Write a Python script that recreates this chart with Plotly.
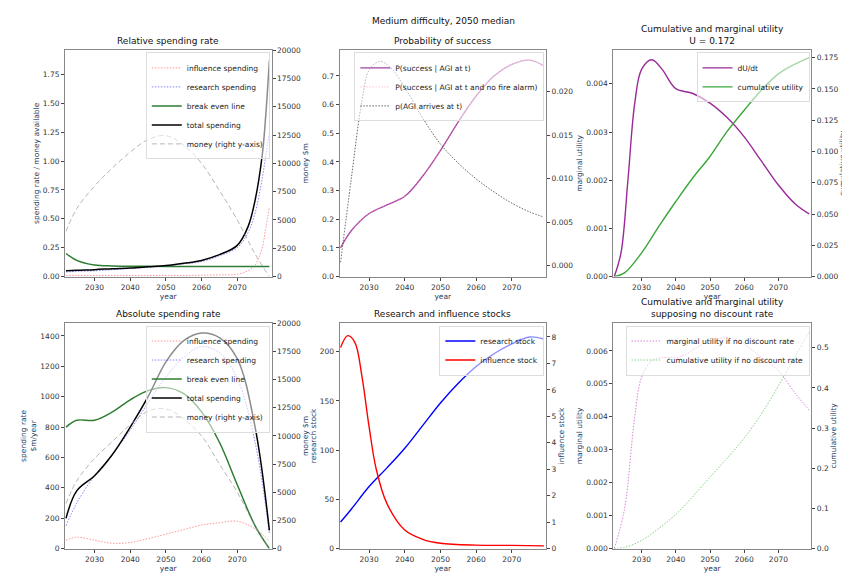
import plotly.graph_objects as go

# ---- data ----
yr_rel = [2022, 2025, 2030, 2035, 2040, 2045, 2050, 2055, 2060, 2065, 2070, 2073, 2075, 2077, 2078, 2079]
rel_influence = [0.01, 0.01, 0.01, 0.01, 0.01, 0.01, 0.01, 0.01, 0.012, 0.015, 0.02, 0.05, 0.1, 0.25, 0.42, 0.6]
rel_research = [0.04, 0.045, 0.05, 0.06, 0.07, 0.08, 0.09, 0.11, 0.13, 0.18, 0.25, 0.38, 0.55, 0.85, 1.05, 1.25]
rel_total = [0.05, 0.055, 0.06, 0.068, 0.075, 0.085, 0.095, 0.115, 0.14, 0.19, 0.27, 0.43, 0.66, 1.05, 1.4, 1.87]
rel_breakeven = [0.2, 0.14, 0.1, 0.092, 0.09, 0.089, 0.088, 0.088, 0.088, 0.088, 0.088, 0.088, 0.088, 0.088, 0.088, 0.088]
yr_money = [2022, 2025, 2030, 2035, 2040, 2045, 2050, 2055, 2060, 2065, 2070, 2075, 2079]
money = [4000, 6000, 8000, 9600, 11000, 12100, 12450, 11600, 10000, 7600, 5000, 2000, 0]

yr_p = [2022, 2025, 2030, 2035, 2040, 2045, 2050, 2055, 2060, 2065, 2070, 2075, 2079]
p_success = [0.1, 0.16, 0.22, 0.25, 0.28, 0.35, 0.44, 0.54, 0.63, 0.7, 0.74, 0.755, 0.735]
yr_agi = [2022, 2025, 2028, 2030, 2033, 2036, 2040, 2045, 2050, 2055, 2060, 2065, 2070, 2075, 2079]
p_agi = [0.0004, 0.01, 0.019, 0.0225, 0.0235, 0.0228, 0.0205, 0.017, 0.014, 0.0118, 0.0100, 0.0085, 0.0072, 0.0062, 0.0056]

yr_u = [2022, 2024, 2026, 2028, 2030, 2033, 2036, 2040, 2045, 2050, 2055, 2060, 2065, 2070, 2075, 2079]
du_dt = [0.0, 0.0005, 0.002, 0.0036, 0.0043, 0.0045, 0.0043, 0.0039, 0.0038, 0.0036, 0.0033, 0.0029, 0.0024, 0.0019, 0.0015, 0.0013]
yr_cu = [2022, 2025, 2030, 2035, 2040, 2045, 2050, 2055, 2060, 2065, 2070, 2075, 2079]
cum_u = [0.0, 0.003, 0.019, 0.04, 0.06, 0.079, 0.096, 0.116, 0.133, 0.149, 0.162, 0.17, 0.175]

yr_abs = [2022, 2025, 2030, 2035, 2040, 2045, 2050, 2055, 2060, 2065, 2070, 2075, 2079]
abs_influence = [55, 75, 55, 35, 40, 65, 95, 125, 155, 170, 180, 130, 50]
abs_research = [150, 300, 480, 620, 780, 960, 1130, 1260, 1330, 1290, 1120, 700, 100]
abs_total = [200, 380, 480, 620, 800, 1000, 1230, 1370, 1420, 1390, 1250, 800, 120]
abs_breakeven = [800, 845, 845, 900, 980, 1040, 1060, 1020, 900, 700, 420, 150, 0]
abs_money = [4000, 6000, 8000, 9500, 11000, 12200, 12400, 11500, 10000, 7500, 5000, 2000, 0]

yr_st = [2022, 2025, 2030, 2035, 2040, 2045, 2050, 2055, 2060, 2065, 2070, 2075, 2079]
research_stock = [27, 40, 63, 82, 102, 125, 148, 168, 185, 198, 208, 215, 213]
yr_inf = [2022, 2024, 2026, 2028, 2030, 2032, 2035, 2040, 2045, 2050, 2060, 2070, 2079]
influence_stock = [7.6, 8.05, 7.8, 6.5, 4.6, 3.0, 1.7, 0.7, 0.35, 0.2, 0.13, 0.12, 0.1]

yr_nd = [2022, 2025, 2028, 2030, 2033, 2036, 2040, 2043, 2046, 2050, 2055, 2060, 2065, 2070, 2075, 2079]
marg_nd = [0.0, 0.0012, 0.004, 0.0052, 0.0057, 0.0058, 0.0058, 0.0059, 0.0061, 0.0063, 0.0064, 0.0062, 0.0058, 0.0054, 0.0047, 0.0042]
yr_cnd = [2022, 2025, 2030, 2035, 2040, 2045, 2050, 2055, 2060, 2065, 2070, 2075, 2079]
cum_nd = [0.0, 0.003, 0.02, 0.05, 0.085, 0.13, 0.178, 0.225, 0.275, 0.335, 0.405, 0.48, 0.54]

FONT = "DejaVu Sans"
xdom = [[0.067, 0.31], [0.39, 0.633], [0.712, 0.945]]
ydom = [[0.535, 0.933], [0.057, 0.453]]
XR = [2021.7, 2079.6]

fig = go.Figure()


def line(x, y, name, color, dash, ax, yax, legend, width=1.0):
    fig.add_trace(go.Scatter(x=x, y=y, name=name, mode="lines", line_shape="spline",
                             line=dict(color=color, dash=dash, width=width),
                             xaxis=ax, yaxis=yax, legend=legend))


MDOT = "1.5px,1.5px"
MDASH = "5px,3px"
# panel 1
line(yr_rel, rel_influence, "influence spending", "rgba(255,80,80,0.6)", MDOT, "x", "y", "legend")
line(yr_rel, rel_research, "research spending", "rgba(80,80,255,0.7)", MDOT, "x", "y", "legend")
line(yr_rel, rel_breakeven, "break even line", "#2e7d32", "solid", "x", "y", "legend", 1.5)
line(yr_rel, rel_total, "total spending", "black", "solid", "x", "y", "legend", 1.5)
line(yr_money, money, "money (right y-axis)", "rgba(150,150,150,0.7)", MDASH, "x", "y2", "legend")
# panel 2
line(yr_p, p_success, "P(success | AGI at t)", "#a040a0", "solid", "x2", "y3", "legend2", 1.3)
line(yr_p, p_success, "P(success | AGI at t and no fire alarm)", "rgba(255,150,200,0.6)", MDOT, "x2", "y3", "legend2")
line(yr_agi, p_agi, "p(AGI arrives at t)", "rgba(60,60,60,0.8)", MDOT, "x2", "y4", "legend2")
# panel 3
line(yr_u, du_dt, "dU/dt", "#9a2a9a", "solid", "x3", "y5", "legend3", 1.4)
line(yr_cu, cum_u, "cumulative utility", "#3aa63a", "solid", "x3", "y6", "legend3", 1.4)
# panel 4
line(yr_abs, abs_influence, "influence spending", "rgba(255,80,80,0.6)", MDOT, "x4", "y7", "legend4")
line(yr_abs, abs_research, "research spending", "rgba(80,80,255,0.7)", MDOT, "x4", "y7", "legend4")
line(yr_abs, abs_breakeven, "break even line", "#2e7d32", "solid", "x4", "y7", "legend4", 1.5)
line(yr_abs, abs_total, "total spending", "black", "solid", "x4", "y7", "legend4", 1.5)
line(yr_abs, abs_money, "money (right y-axis)", "rgba(150,150,150,0.7)", MDASH, "x4", "y8", "legend4")
# panel 5
line(yr_st, research_stock, "research stock", "blue", "solid", "x5", "y9", "legend5", 1.4)
line(yr_inf, influence_stock, "influence stock", "red", "solid", "x5", "y10", "legend5", 1.4)
# panel 6
line(yr_nd, marg_nd, "marginal utility if no discount rate", "rgba(200,80,200,0.7)", MDOT, "x6", "y11", "legend6")
line(yr_cnd, cum_nd, "cumulative utility if no discount rate", "rgba(80,190,80,0.7)", MDOT, "x6", "y12", "legend6")

tickf = dict(family=FONT, size=7.5, color="#333")
base = dict(showgrid=False, zeroline=False, ticks="outside", ticklen=3, tickfont=tickf,
            linecolor="#888", linewidth=1, showline=True)

panels = [
    # (row, col, left range, right range, left title, right title, left dtick, right dtick, left fmt, right fmt)
    (0, 0, [0, 1.96], [0, 20000], "spending rate / money available", "money $m", 0.25, 2500, ".2f", "d"),
    (0, 1, [0, 0.79], [-0.00124, 0.0248], "", "", 0.1, 0.005, ".1f", ".3f"),
    (0, 2, [0, 0.0047], [0, 0.181], "marginal utility", "cumulative utility", 0.001, 0.025, ".3f", ".3f"),
    (1, 0, [0, 1484], [0, 20000], "spending rate<br>$m/year", "money $m", 200, 2500, "d", "d"),
    (1, 1, [0, 229], [0, 8.52], "research stock", "influence stock", 50, 1, "d", "d"),
    (1, 2, [0, 0.00684], [0, 0.561], "marginal utility", "cumulative utility", 0.001, 0.1, ".3f", ".1f"),
]
lay = {}
for i, (r, c, lr, rr, lt, rt, ld, rd, lf, rf) in enumerate(panels):
    n = i + 1
    xk = "xaxis" if n == 1 else f"xaxis{n}"
    yl = 2 * n - 1
    yk = "yaxis" if yl == 1 else f"yaxis{yl}"
    yr = f"yaxis{2 * n}"
    xa = "x" if n == 1 else f"x{n}"
    ya = "y" if yl == 1 else f"y{yl}"
    lay[xk] = dict(base, domain=xdom[c], range=XR, anchor=ya, tickvals=[2030, 2040, 2050, 2060, 2070],
                   title=dict(text="year", font=dict(family=FONT, size=7.5), standoff=1), mirror=True)
    lay[yk] = dict(base, domain=ydom[r], range=lr, anchor=xa, dtick=ld, tick0=0, mirror=True,
                   tickformat=lf,
                   title=dict(text=lt, font=dict(family=FONT, size=7.5), standoff=2))
    lay[yr] = dict(base, range=rr, anchor=xa, overlaying=ya, side="right", dtick=rd, tick0=0,
                   tickformat=rf,
                   title=dict(text=rt, font=dict(family=FONT, size=7.5), standoff=1))
    lk = "legend" if n == 1 else f"legend{n}"
    lay[lk] = dict(x=xdom[c][1] - 0.002, y=ydom[r][1] - 0.004, xanchor="right", yanchor="top",
                   bgcolor="rgba(255,255,255,0.55)", bordercolor="#ddd", borderwidth=1,
                   font=dict(family=FONT, size=7.5, color="#222"), tracegroupgap=0,
                   itemwidth=30)

titles = [
    (0, 0, "Relative spending rate"), (0, 1, "Probability of success"),
    (0, 2, "Cumulative and marginal utility<br>U = 0.172"),
    (1, 0, "Absolute spending rate"), (1, 1, "Research and influence stocks"),
    (1, 2, "Cumulative and marginal utility<br>supposing no discount rate"),
]
ann = []
for r, c, t in titles:
    ann.append(dict(text=t, x=(xdom[c][0] + xdom[c][1]) / 2, y=ydom[r][1] + 0.004, xref="paper", yref="paper",
                    xanchor="center", yanchor="bottom", showarrow=False,
                    font=dict(family=FONT, size=9, color="#111")))
ann.append(dict(text="Medium difficulty, 2050 median", x=0.512, y=0.985, xref="paper", yref="paper",
                xanchor="center", yanchor="middle", showarrow=False, font=dict(family=FONT, size=9, color="#111")))

fig.update_layout(width=850, height=578, margin=dict(l=0, r=0, t=0, b=0),
                  paper_bgcolor="white", plot_bgcolor="white", annotations=ann,
                  font=dict(family=FONT, size=8), **lay)

fig.write_html("out.html")
